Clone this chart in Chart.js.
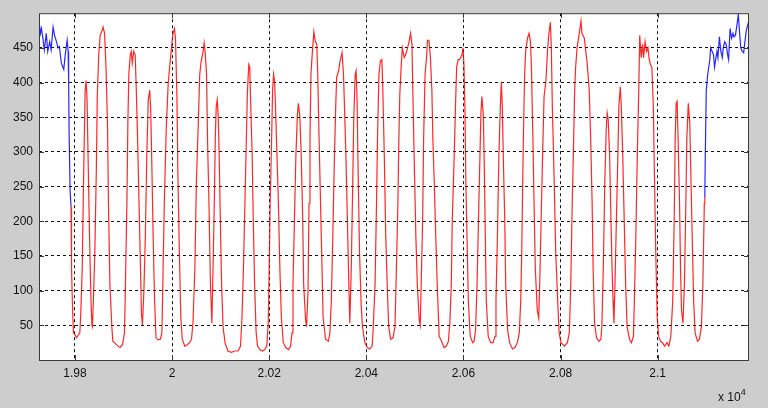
<!DOCTYPE html>
<html>
<head>
<meta charset="utf-8">
<script src="https://cdn.jsdelivr.net/npm/chart.js@4.4.1/dist/chart.umd.min.js"></script>
<style>
  html, body { margin: 0; padding: 0; background: #cdcdcd; }
  #wrap { position: relative; width: 768px; height: 408px; }
  #exp { position: absolute; left: 718px; top: 388px; font: 12px "Liberation Sans", Arial, sans-serif; color: #111; }
  #exp sup { font-size: 9px; position: relative; top: -1px; }
</style>
</head>
<body>
<div id="wrap">
  <canvas id="chart" width="768" height="408"></canvas>
  <div id="exp">x 10<sup>4</sup></div>
</div>
<script>
// samples: [x, value]
const blueStart = [
  [19726, 489], [19729, 471], [19731, 478], [19734, 464], [19737, 447], [19741, 471], [19744, 445],
  [19748, 459], [19751, 447], [19755, 480], [19758, 468], [19762, 459], [19765, 450], [19768, 452],
  [19772, 428], [19777, 419], [19780, 440], [19784, 461], [19786, 445], [19787, 403], [19788, 328],
  [19790, 244], [19792, 221],
];

const redTrace = [
  [19792, 221], [19793, 132], [19795, 76], [19797, 39], [19800, 37], [19803, 32], [19806, 35], [19810, 39],
  [19812, 67], [19815, 132], [19817, 225], [19819, 310], [19821, 389], [19823, 403], [19825, 375], [19827, 295],
  [19830, 179], [19833, 86], [19835, 50], [19836, 48], [19838, 86], [19841, 156], [19844, 272], [19846, 380],
  [19849, 440], [19852, 468], [19856, 475], [19858, 480], [19861, 471], [19864, 422], [19867, 342], [19869, 226],
  [19872, 109], [19876, 48], [19878, 27], [19883, 24], [19889, 20], [19893, 18], [19898, 22], [19902, 39],
  [19904, 109], [19907, 226], [19909, 342], [19911, 412], [19914, 440], [19916, 445], [19918, 428], [19921, 445],
  [19924, 440], [19926, 398], [19929, 319], [19932, 226], [19935, 132], [19937, 67], [19939, 50], [19942, 100],
  [19945, 179], [19948, 295], [19951, 375], [19954, 389], [19956, 361], [19958, 295], [19961, 179], [19964, 86],
  [19967, 32], [19971, 29], [19976, 30], [19979, 39], [19981, 109], [19984, 226], [19988, 333], [19992, 398],
  [19995, 422], [19997, 436], [20000, 459], [20002, 471], [20005, 478], [20007, 464], [20010, 380], [20012, 268],
  [20015, 156], [20018, 62], [20021, 30], [20026, 20], [20031, 22], [20036, 25], [20040, 30], [20043, 53],
  [20047, 132], [20050, 254], [20054, 342], [20057, 412], [20060, 431], [20064, 445], [20066, 457], [20068, 445],
  [20071, 412], [20073, 319], [20076, 226], [20079, 109], [20082, 53],
  [20085, 155], [20087, 226], [20089, 319], [20091, 366], [20093, 375], [20095, 352], [20097, 295], [20100, 179],
  [20102, 109], [20105, 48], [20109, 25], [20115, 13], [20122, 11], [20129, 13], [20136, 13], [20141, 20],
  [20144, 62], [20147, 132], [20150, 226], [20153, 319], [20155, 384], [20158, 426], [20160, 422], [20162, 366],
  [20165, 295], [20167, 208], [20170, 109], [20173, 41], [20176, 20], [20181, 15], [20186, 13], [20191, 15],
  [20195, 20], [20198, 53], [20200, 132], [20202, 226], [20205, 319], [20207, 389], [20209, 412], [20211, 403],
  [20213, 366], [20216, 295], [20219, 226], [20222, 132], [20225, 62], [20229, 25], [20234, 18], [20240, 15],
  [20244, 20], [20247, 39], [20249, 109], [20252, 203], [20255, 295], [20258, 352], [20260, 370], [20263, 352],
  [20266, 295], [20269, 203], [20271, 109], [20275, 57], [20277, 48], [20280, 100], [20282, 226], [20284, 319],
  [20286, 412], [20289, 445], [20292, 473], [20295, 459], [20298, 455], [20300, 412], [20302, 342], [20305, 249],
  [20308, 156], [20311, 62], [20316, 30], [20322, 27], [20325, 39], [20328, 86], [20331, 179], [20334, 282],
  [20337, 366], [20339, 408], [20343, 417], [20346, 431], [20350, 443], [20353, 412], [20355, 366], [20358, 295],
  [20361, 203], [20364, 109], [20366, 53], [20369, 132], [20372, 254], [20374, 342], [20377, 412], [20379, 417],
  [20381, 375], [20383, 277], [20386, 156], [20389, 86], [20392, 48], [20397, 25], [20402, 18], [20407, 16],
  [20412, 20], [20414, 43], [20418, 109], [20421, 226], [20423, 319], [20426, 412], [20429, 431], [20432, 433],
  [20434, 389], [20437, 295], [20440, 179], [20443, 109], [20446, 48],
  [20450, 30], [20455, 32], [20459, 48], [20462, 132], [20465, 226], [20467, 319], [20469, 384], [20472, 426],
  [20474, 450], [20478, 436], [20481, 440], [20485, 450], [20488, 459], [20491, 471], [20494, 455], [20496, 380],
  [20499, 277], [20502, 179], [20505, 109], [20509, 57], [20511, 50], [20513, 109], [20516, 203], [20518, 319],
  [20521, 412], [20524, 436], [20526, 461], [20529, 461], [20532, 436], [20535, 389], [20537, 319], [20540, 254],
  [20543, 179], [20546, 109], [20550, 34], [20555, 27], [20560, 18], [20565, 20], [20569, 27], [20572, 53],
  [20575, 109], [20577, 203], [20581, 295], [20584, 375], [20586, 422], [20589, 433], [20592, 433], [20597, 440],
  [20599, 450], [20601, 426], [20603, 366], [20605, 254], [20608, 156], [20610, 86], [20614, 34], [20619, 25],
  [20622, 27], [20625, 43], [20628, 109], [20631, 203], [20634, 295], [20636, 356], [20638, 380], [20641, 352],
  [20643, 277], [20645, 179], [20647, 86], [20651, 34], [20656, 25], [20661, 25], [20665, 34], [20667, 86],
  [20670, 179], [20673, 295], [20676, 366], [20678, 401], [20680, 366], [20682, 295], [20685, 203], [20687, 109],
  [20691, 43], [20695, 25], [20701, 16], [20706, 18], [20711, 25], [20715, 39], [20718, 86], [20720, 156],
  [20722, 254], [20724, 342], [20726, 412], [20728, 445], [20732, 464], [20735, 471], [20738, 459], [20740, 422],
  [20743, 319], [20746, 203], [20748, 132], [20752, 72], [20755, 60], [20757, 109], [20760, 203], [20763, 295],
  [20766, 380], [20770, 403], [20773, 445], [20776, 471], [20779, 487], [20781, 450], [20783, 366], [20787, 254],
  [20790, 156], [20794, 86], [20797, 39], [20801, 25],
  [20808, 20], [20814, 25], [20818, 39], [20821, 109], [20824, 226], [20827, 319], [20829, 389], [20831, 422],
  [20834, 450], [20837, 464], [20840, 478], [20842, 489], [20844, 471], [20846, 468], [20849, 464], [20852, 445],
  [20855, 426], [20859, 389], [20862, 319], [20865, 226], [20867, 132], [20870, 53], [20874, 32], [20879, 27],
  [20883, 30], [20885, 48], [20888, 132], [20891, 254], [20894, 333], [20896, 356], [20898, 347], [20901, 295],
  [20903, 226], [20906, 132], [20908, 86], [20910, 53], [20912, 109], [20915, 203], [20918, 295], [20920, 366],
  [20923, 394], [20925, 366], [20928, 295], [20931, 203], [20934, 109], [20937, 48], [20942, 30], [20946, 25],
  [20950, 34], [20952, 86], [20955, 179], [20958, 295], [20961, 389], [20963, 468], [20966, 436], [20969, 455],
  [20971, 436], [20974, 459], [20977, 445], [20980, 450], [20982, 436], [20985, 426], [20988, 422], [20991, 366],
  [20993, 277], [20996, 156], [20999, 62], [21002, 34], [21006, 27], [21010, 25], [21014, 20], [21019, 25],
  [21023, 20], [21027, 34], [21031, 86], [21034, 203], [21036, 319], [21038, 370], [21040, 373], [21042, 319],
  [21045, 226], [21047, 132], [21049, 72], [21052, 53], [21055, 109], [21058, 226], [21060, 319], [21063, 370],
  [21066, 342], [21068, 277], [21071, 179], [21074, 86], [21077, 39], [21082, 27], [21086, 30], [21090, 48],
  [21093, 109], [21096, 226], [21097, 235],
];

const blueEnd = [
  [21097, 235], [21098, 295], [21100, 389], [21103, 412], [21107, 431], [21109, 450], [21112, 445], [21115, 440],
  [21117, 422], [21120, 436], [21122, 445], [21124, 436], [21127, 466], [21130, 445], [21133, 436], [21135, 450],
  [21138, 459], [21141, 455], [21144, 440], [21146, 433], [21149, 478], [21152, 464], [21155, 471], [21157, 466],
  [21160, 468], [21163, 482], [21166, 498], [21168, 478], [21171, 450], [21174, 445], [21177, 443], [21179, 455],
  [21182, 473], [21185, 482], [21187, 487],
];

const xTicks = [19800, 20000, 20200, 20400, 20600, 20800, 21000];
const xTickLabels = ["1.98", "2", "2.02", "2.04", "2.06", "2.08", "2.1"];
const yTicks = [50, 100, 150, 200, 250, 300, 350, 400, 450];
const xRange = [19726, 21188];
const yRange = [0, 500];

const toPoints = arr => arr.map(p => ({x: p[0], y: p[1]}));

// white plot box, frame and inward tick marks
const plotBox = {
  id: "plotBox",
  beforeDraw(chart) {
    const {ctx, chartArea: a} = chart;
    ctx.save();
    ctx.fillStyle = "#ffffff";
    ctx.fillRect(a.left, a.top, a.right - a.left, a.bottom - a.top);
    ctx.restore();
  },
  afterDatasetsDraw(chart) {
    const {ctx, chartArea: a, scales} = chart;
    ctx.save();
    ctx.strokeStyle = "#3a3a3a";
    ctx.lineWidth = 1;
    ctx.beginPath();
    xTicks.forEach(v => {
      const px = Math.round(scales.x.getPixelForValue(v)) + 0.5;
      ctx.moveTo(px, a.bottom); ctx.lineTo(px, a.bottom - 5);
      ctx.moveTo(px, a.top); ctx.lineTo(px, a.top + 5);
    });
    yTicks.forEach(v => {
      const py = Math.round(scales.y.getPixelForValue(v)) + 0.5;
      ctx.moveTo(a.left, py); ctx.lineTo(a.left + 5, py);
      ctx.moveTo(a.right, py); ctx.lineTo(a.right - 5, py);
    });
    ctx.stroke();
    ctx.strokeRect(a.left + 0.5, a.top + 0.5, a.right - a.left - 1, a.bottom - a.top);
    ctx.restore();
  },
};

const font = {family: "'Liberation Sans', Arial, sans-serif", size: 12};

new Chart(document.getElementById("chart"), {
  type: "line",
  data: {
    datasets: [
      {data: toPoints(blueStart), borderColor: "rgba(0,0,255,0.85)"},
      {data: toPoints(redTrace), borderColor: "rgba(255,0,0,0.85)"},
      {data: toPoints(blueEnd), borderColor: "rgba(0,0,255,0.85)"},
    ],
  },
  options: {
    responsive: false,
    animation: false,
    devicePixelRatio: 1,
    layout: {padding: {left: 0, top: 4, right: 19, bottom: 0}},
    elements: {
      point: {radius: 0},
      line: {borderWidth: 1.2, tension: 0},
    },
    plugins: {legend: {display: false}, tooltip: {enabled: false}},
    scales: {
      x: {
        type: "linear",
        min: xRange[0],
        max: xRange[1],
        afterFit: s => { s.height = 48; },
        afterBuildTicks: s => { s.ticks = xTicks.map(v => ({value: v})); },
        grid: {color: "#111", lineWidth: 1, drawTicks: false},
        border: {display: false, dash: [3, 3]},
        ticks: {
          font,
          color: "#111",
          padding: 6,
          maxRotation: 0,
          callback: v => xTickLabels[xTicks.indexOf(v)],
        },
      },
      y: {
        type: "linear",
        min: yRange[0],
        max: yRange[1],
        afterFit: s => { s.width = 39; },
        afterBuildTicks: s => { s.ticks = yTicks.map(v => ({value: v})); },
        grid: {color: "#111", lineWidth: 1, drawTicks: false},
        border: {display: false, dash: [3, 3]},
        ticks: {font, color: "#111", padding: 6},
      },
    },
  },
  plugins: [plotBox],
});
</script>
</body>
</html>
